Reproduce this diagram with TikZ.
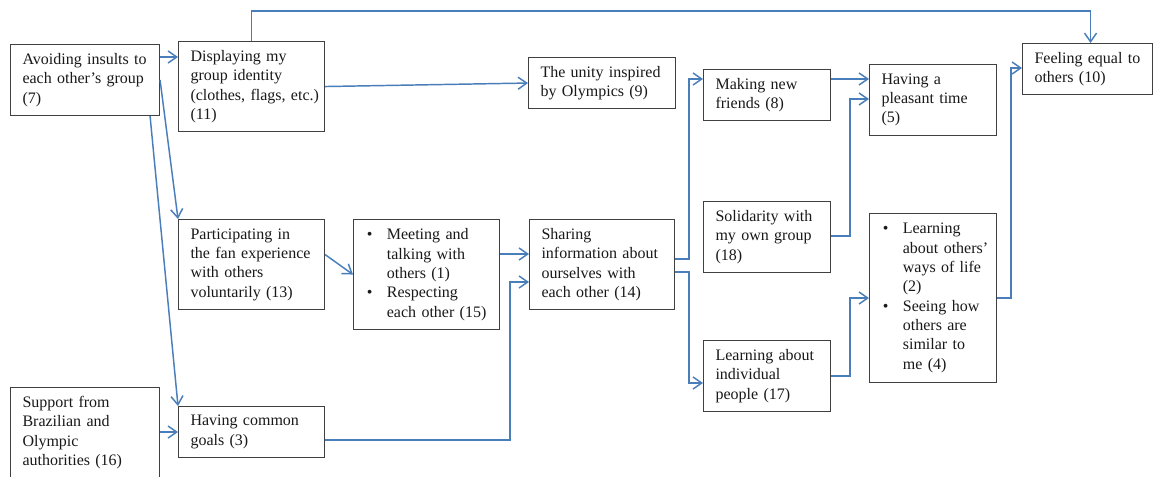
\documentclass[tikz,border=0pt]{standalone}
\usepackage{fontspec}
\setmainfont{Liberation Serif}
\usetikzlibrary{arrows.meta,calc}
\definecolor{linkblue}{RGB}{74,126,187}
\definecolor{boxline}{RGB}{64,64,64}
\definecolor{inktext}{RGB}{25,25,25}
% bullet items: bullet mark and hanging indent of the item text
\newcommand\bul{\makebox[16pt][l]{\hspace{1pt}\textbullet}}
\newcommand\hang{\hspace*{16pt}}
\begin{document}
\begin{tikzpicture}[x=0.75pt,y=-0.75pt,
  box/.style={draw=boxline,line width=0.8pt,anchor=north west,inner xsep=9pt,
    inner ysep=0pt,align=left,text=inktext,
    font=\fontsize{12pt}{14.5pt}\selectfont},
  wide/.style={minimum width=111.75pt,text width=93.75pt},
  mid/.style={minimum width=109.5pt,text width=91.5pt},
  narrow/.style={minimum width=95.25pt,text width=77.25pt},
  link/.style={draw=linkblue,line width=1.1pt,line join=miter,
    -{Straight Barb[length=6.5pt,width=9pt]}}]
\useasboundingbox (0,0) rectangle (1153,476);
\fill[white] (0,0) rectangle (1153,476);
\clip (0,0) rectangle (1153,476);

% boxes
\node[box,wide,minimum height=53.25pt] (n7) at (10,44)
  {\mbox{Avoiding insults to}\\each other’s group\\(7)};
\node[box,wide,minimum height=67.5pt] (n16) at (10,387)
  {Support from\\Brazilian and\\Olympic\\authorities (16)};
\node[box,mid,minimum height=67.5pt] (n11) at (178,41)
  {Displaying my\\group identity\\\mbox{(clothes, flags, etc.)}\\(11)};
\node[box,mid,minimum height=67.5pt] (n13) at (178,219)
  {Participating in\\the fan experience\\with others\\voluntarily (13)};
\node[box,mid,minimum height=38.25pt] (n3) at (178,406)
  {Having common\\goals (3)};
\node[box,mid,minimum height=82.5pt] (n15) at (353,219)
  {\bul Meeting and\\\hang talking with\\\hang others (1)\\\bul Respecting\\\hang \mbox{each other (15)}};
\node[box,minimum width=110.25pt,text width=92.25pt,minimum height=38.25pt] (n9) at (528,57)
  {The unity inspired\\by Olympics (9)};
\node[box,minimum width=108.75pt,text width=90.75pt,minimum height=67.5pt] (n14) at (529,219)
  {Sharing\\information about\\ourselves with\\each other (14)};
\node[box,narrow,minimum height=38.25pt] (n8) at (703,69)
  {Making new\\friends (8)};
\node[box,narrow,minimum height=53.25pt] (n18) at (703,201)
  {Solidarity with\\my own group\\(18)};
\node[box,narrow,minimum height=53.25pt] (n17) at (703,340)
  {Learning about\\individual\\people (17)};
\node[box,narrow,minimum height=53.25pt] (n5) at (869,64)
  {Having a\\pleasant time\\(5)};
\node[box,narrow,minimum height=126.75pt] (n24) at (869,213)
  {\bul Learning\\\hang \mbox{about others’}\\\hang ways of life\\\hang (2)\\\bul Seeing how\\\hang others are\\\hang similar to\\\hang me (4)};
\node[box,minimum width=97.5pt,text width=79.5pt,minimum height=38.25pt] (n10) at (1022,43)
  {\mbox{Feeling equal to}\\others (10)};

% connectors
\draw[link] ($(n7.north east)+(0,13)$) -- ($(n11.north west)+(0,16)$);
\draw[link] (n7.east) -- (n13.north west);
\draw[link] ($(n7.south east)+(-10,0)$) -- (n3.north west);
\draw[link] (n16.east |- n3.west) -- (n3.west);
\draw[link] (n11.north) -- ++(0,-30) -| ($(n10.north)+(3,0)$);
\draw[link] (n11.east) -- (n9.west);
\draw[link] ($(n13.east)+(0,-10)$) -- (n15.west);
\draw[link] ($(n15.north east)+(0,35)$) -- ($(n14.north west)+(0,35)$);
\draw[link] ($(n3.south east)+(0,-18)$) -| ($(n14.north west)+(-19,63)$)
  -- ($(n14.north west)+(0,63)$);
\draw[link] ($(n14.north east)+(0,40)$) -- ++(14,0) |- ($(n8.north west)+(0,10)$);
\draw[link] ($(n14.north east)+(0,53)$) -- ++(14,0) |- ($(n17.north west)+(0,43)$);
\draw[link] ($(n8.north east)+(0,10)$) -- ($(n5.north west)+(0,15)$);
\draw[link] ($(n18.north east)+(0,35)$) -- ++(19,0) |- ($(n5.north west)+(0,35)$);
\draw[link] (n17.east) -- ++(19,0) |- (n24.west);
\draw[link] (n24.east) -- ++(14,0) |- ($(n10.north west)+(0,25)$);
\end{tikzpicture}
\end{document}
